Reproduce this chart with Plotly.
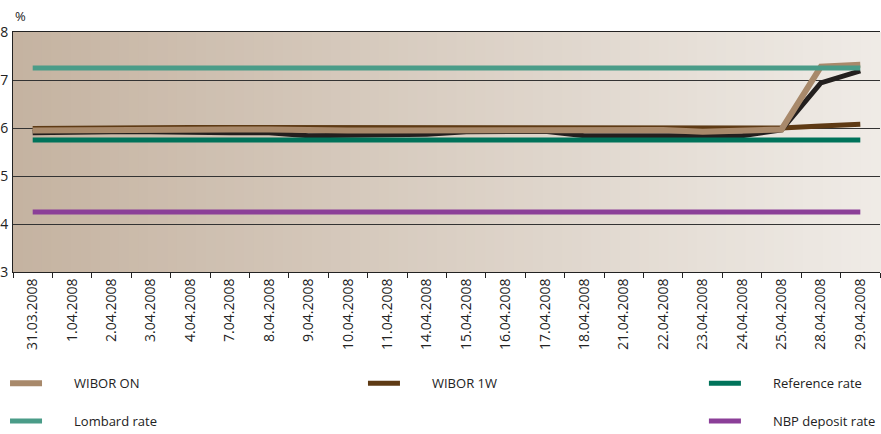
import plotly.graph_objects as go

dates = ["31.03.2008", "1.04.2008", "2.04.2008", "3.04.2008", "4.04.2008", "7.04.2008",
         "8.04.2008", "9.04.2008", "10.04.2008", "11.04.2008", "14.04.2008", "15.04.2008",
         "16.04.2008", "17.04.2008", "18.04.2008", "21.04.2008", "22.04.2008", "23.04.2008",
         "24.04.2008", "25.04.2008", "28.04.2008", "29.04.2008"]

wibor_on = [5.95, 5.96, 5.96, 5.97, 5.97, 5.97, 5.97, 5.95, 5.95, 5.95, 5.95, 5.97,
            5.97, 5.97, 5.96, 5.95, 5.96, 5.92, 5.93, 5.97, 7.28, 7.32]
wibor_1w = [5.99, 6.0, 6.0, 6.01, 6.01, 6.01, 6.01, 6.0, 6.0, 6.0, 5.99, 6.01,
            6.01, 6.01, 6.01, 6.0, 6.0, 5.99, 5.99, 6.0, 6.04, 6.08]
other_rate = [5.9, 5.92, 5.92, 5.92, 5.9, 5.9, 5.9, 5.84, 5.85, 5.85, 5.87, 5.92,
              5.93, 5.93, 5.84, 5.84, 5.85, 5.84, 5.84, 5.96, 6.94, 7.19]
reference_rate = [5.75] * 22
lombard_rate = [7.25] * 22
deposit_rate = [4.25] * 22

y_ticks = [3, 4, 5, 6, 7, 8]

FONT = "Open Sans, Arial"
PAD = "\u00a0" * 8

fig = go.Figure()

def add(y, name, color, width, legend, show=True, rank=1):
    fig.add_trace(go.Scatter(
        x=dates, y=y, name=PAD + name, mode="lines",
        line=dict(color=color, width=width),
        legend=legend, showlegend=show, legendrank=rank,
        legendgroup=name or "other",
        hoverinfo="skip"))

add(wibor_1w, "WIBOR 1W", "#5e3a14", 5, "legend2", rank=1)
add(other_rate, "", "#231f1e", 5, "legend", show=False)
add(wibor_on, "WIBOR ON", "#a8896b", 6, "legend", rank=1)
add(reference_rate, "Reference rate", "#00735a", 5, "legend3", rank=1)
add(lombard_rate, "Lombard rate", "#4a9c88", 5, "legend", rank=2)
add(deposit_rate, "NBP deposit rate", "#8b3f98", 5, "legend3", rank=2)

# background gradient strips
c0 = (197, 179, 161)
c1 = (239, 235, 230)
n = 90
shapes = []
for i in range(n):
    t = i / (n - 1)
    col = tuple(round(a + (b - a) * t) for a, b in zip(c0, c1))
    shapes.append(dict(type="rect", xref="paper", yref="paper",
                       x0=i / n, x1=(i + 1) / n + 0.002, y0=0, y1=1,
                       fillcolor="rgb(%d,%d,%d)" % col, line=dict(width=0),
                       layer="below"))

legend_common = dict(
    orientation="v", xref="container", yref="container",
    xanchor="left", yanchor="top", bgcolor="rgba(0,0,0,0)",
    font=dict(family=FONT, size=13, color="#222"),
    itemwidth=32, tracegroupgap=18, traceorder="grouped",
    itemclick=False, itemdoubleclick=False,
)

fig.update_layout(
    width=881, height=434,
    margin=dict(l=13, r=1, t=32, b=162, autoexpand=False),
    paper_bgcolor="white",
    plot_bgcolor="rgb(220,208,196)",
    font=dict(family=FONT, size=13, color="#222"),
    shapes=shapes,
    legend=dict(legend_common, x=0.0057, y=0.1515),
    legend2=dict(legend_common, x=0.412, y=0.1515),
    legend3=dict(legend_common, x=0.799, y=0.1515),
    annotations=[dict(text="%", xref="paper", yref="paper", x=0, y=1,
                      xanchor="left", yanchor="bottom", yshift=5, showarrow=False,
                      font=dict(family=FONT, size=13, color="#222"))],
    xaxis=dict(
        type="category", tickson="boundaries", ticks="outside", ticklen=5,
        tickcolor="#222", tickwidth=1, tickangle=-90,
        showline=True, linecolor="#222", linewidth=1, mirror=True,
        showgrid=False, tickfont=dict(family=FONT, size=14, color="#222"),
        automargin=False, range=[-0.5, 21.5],
    ),
    yaxis=dict(
        range=[3, 8], tickvals=y_ticks, ticktext=[str(v) for v in y_ticks],
        showgrid=True, gridcolor="#333", gridwidth=1,
        showline=True, linecolor="#222", linewidth=1,
        zeroline=False, ticks="outside", ticklen=1, tickcolor="rgba(0,0,0,0)",
        tickfont=dict(family=FONT, size=14, color="#222"),
        automargin=False, ticklabelstandoff=0,
    ),
)

fig.write_html("out.html", config={"displayModeBar": False},
               post_script="document.body.style.margin='0px';")
